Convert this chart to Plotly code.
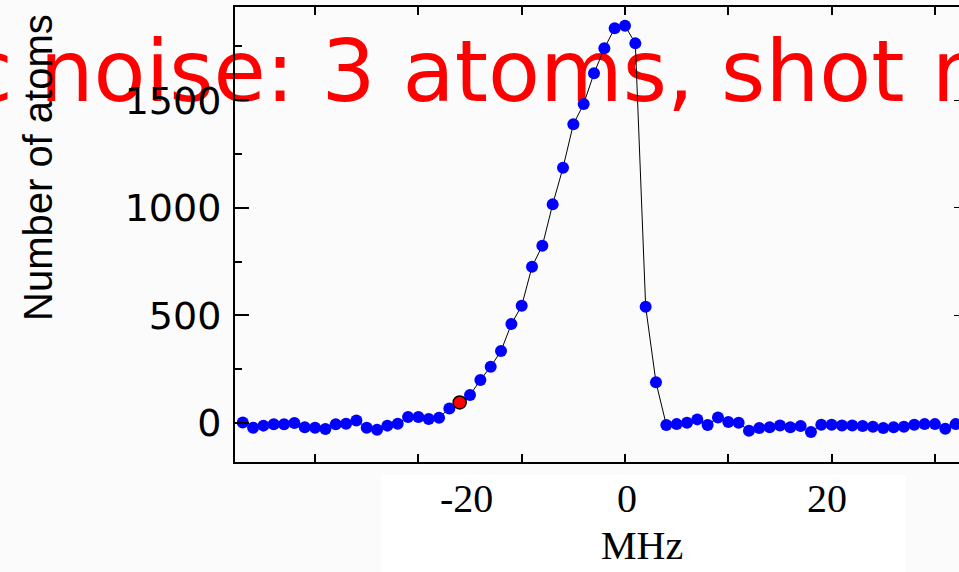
import plotly.graph_objects as go

# ---- data ----
freq_mhz = [-37, -36, -35, -34, -33, -32, -31, -30, -29, -28, -27, -26, -25, -24, -23, -22,
            -21, -20, -19, -18, -17, -16, -15, -14, -13, -12, -11, -10, -9, -8, -7, -6,
            -5, -4, -3, -2, -1, 0, 1, 2, 3, 4, 5, 6, 7, 8, 9, 10, 11, 12, 13, 14, 15, 16,
            17, 18, 19, 20, 21, 22, 23, 24, 25, 26, 27, 28, 29, 30, 31, 32]
atoms = [3, -22, -12, -6, -6, 0, -20, -22, -28, -6, -3, 12, -22, -31, -12, -3,
         28, 28, 19, 25, 68, 96, 130, 200, 262, 335, 460, 545, 726, 824, 1016, 1186,
         1388, 1482, 1625, 1741, 1834, 1846, 1764, 540, 189, -9, -5, 1, 17, -9, 26, 5,
         1, -36, -23, -20, -11, -20, -14, -42, -8, -8, -11, -11, -14, -17, -23, -20,
         -17, -8, -5, -5, -26, -5]
highlight_freq = [-16]
highlight_atoms = [96]

x_tick_labels = ["-20", "0", "20"]
y_tick_values = [0, 500, 1000, 1500]
x_title = "MHz"
y_title = "Number of atoms"
overlay_text = "c noise: 3 atoms, shot n"

# ---- layout geometry (pixels) ----
W, H = 959, 572
L, R, T, B = 235, 959, 7, 462


def px_x(px):
    return (px - L) / (R - L)


def px_y(py):
    return (B - py) / (B - T)


BG = "#fbfbfb"

fig = go.Figure()

fig.add_trace(go.Scatter(
    x=freq_mhz, y=atoms, mode="lines+markers",
    line=dict(color="black", width=1),
    marker=dict(color="#0000ff", size=12, line=dict(width=0)),
    showlegend=False, hoverinfo="x+y",
))
fig.add_trace(go.Scatter(
    x=highlight_freq, y=highlight_atoms, mode="markers",
    marker=dict(color="#ff0000", size=13, line=dict(color="black", width=1.5)),
    showlegend=False,
))
fig.add_trace(go.Scatter(x=[None], y=[None], yaxis="y2", showlegend=False, hoverinfo="skip"))

yr = [-181, 1933]
fig.update_layout(
    width=W, height=H,
    margin=dict(l=L, r=W - R, t=T, b=H - B),
    paper_bgcolor=BG, plot_bgcolor=BG,
    xaxis=dict(range=[-37.75, 32.33], tick0=0, dtick=10, ticks="inside", ticklen=8,
               tickwidth=1.5, tickcolor="black", showline=True, linecolor="black",
               linewidth=2, mirror="ticks", showticklabels=False, showgrid=False,
               zeroline=False),
    yaxis=dict(range=yr, tickvals=y_tick_values, ticks="inside", ticklen=14, tickwidth=1.5,
               tickcolor="black", showline=True, linecolor="black", linewidth=2,
               showgrid=False, zeroline=False, ticklabelstandoff=4,
               tickfont=dict(family="DejaVu Sans", size=38, color="black"),
               minor=dict(dtick=250, tick0=0, ticks="inside", ticklen=7, tickcolor="black",
                          tickwidth=1.5, showgrid=False)),
    yaxis2=dict(range=yr, overlaying="y", side="right", tickvals=y_tick_values,
                ticks="inside", ticklen=5, tickcolor="black", showline=False,
                showticklabels=False, showgrid=False, zeroline=False),
)

# pasted white label box under the plot
fig.add_shape(type="rect", xref="paper", yref="paper",
              x0=px_x(381), x1=px_x(906), y0=px_y(572), y1=px_y(475),
              fillcolor="white", line=dict(width=0), layer="below")

# big red overlay text (drawn beneath the data)
fig.add_shape(type="rect", xref="paper", yref="paper",
              x0=px_x(-40), x1=px_x(30), y0=px_y(95), y1=px_y(35),
              fillcolor="rgba(0,0,0,0)", line=dict(width=0), layer="below",
              label=dict(text=overlay_text, textposition="middle left",
                         font=dict(family="DejaVu Sans", size=85, color="#ff0000")))

# x tick labels and title in the pasted box
label_px = [466, 627, 827]
for txt, px in zip(x_tick_labels, label_px):
    fig.add_annotation(text=txt, xref="paper", yref="paper", x=px_x(px), y=px_y(498),
                       xanchor="center", yanchor="middle", showarrow=False,
                       font=dict(family="Liberation Serif", size=40, color="black"))
fig.add_annotation(text=x_title, xref="paper", yref="paper", x=px_x(642), y=px_y(545),
                   xanchor="center", yanchor="middle", showarrow=False,
                   font=dict(family="Liberation Serif", size=40, color="black"))

# y title
fig.add_annotation(text=y_title, xref="paper", yref="paper", x=px_x(38), y=px_y(168),
                   xanchor="center", yanchor="middle", textangle=-90, showarrow=False,
                   font=dict(family="Liberation Sans", size=40, color="black"))

fig.write_html("out.html", config={"displayModeBar": False},
               post_script="document.body.style.margin='0';")
